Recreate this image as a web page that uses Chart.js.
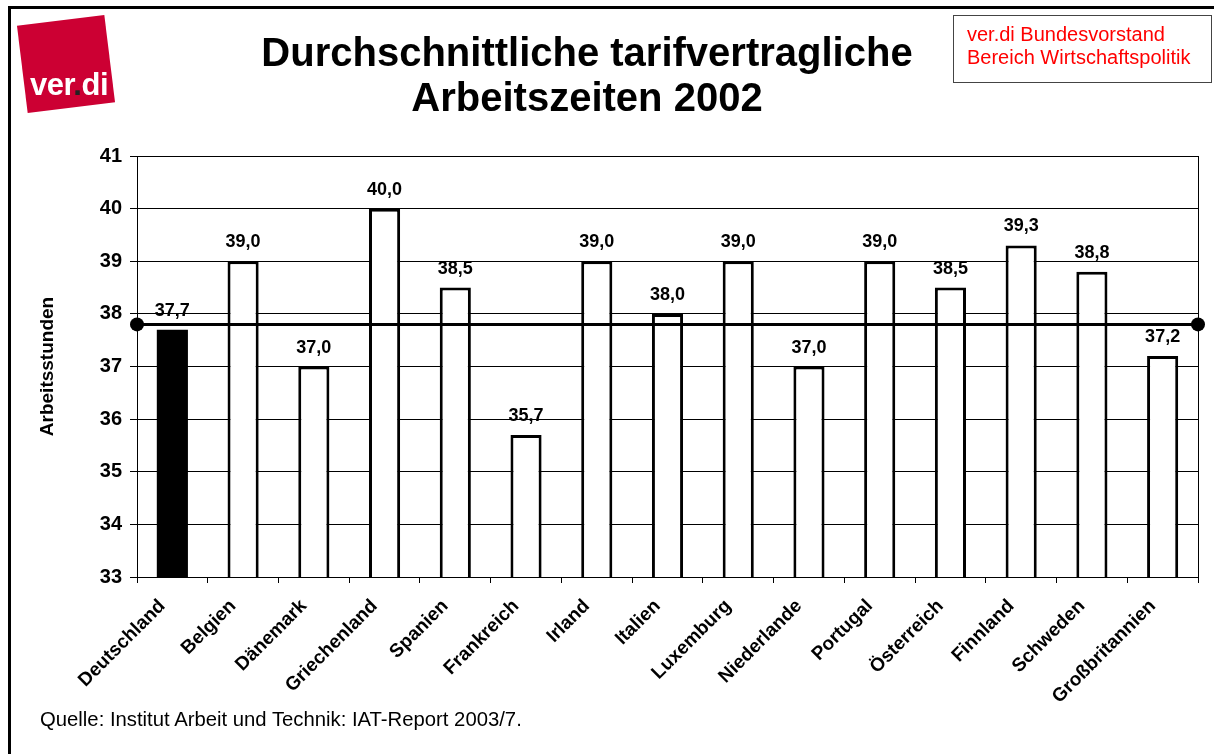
<!DOCTYPE html>
<html><head><meta charset="utf-8">
<script src="https://cdn.jsdelivr.net/npm/chart.js@4/dist/chart.umd.min.js"></script>
<style>
html,body{margin:0;padding:0;background:#fff;}
body{width:1214px;height:754px;position:relative;overflow:hidden;font-family:"Liberation Sans",Arial,sans-serif;}
#frame{position:absolute;left:8px;top:6px;width:1300px;height:900px;border-left:3px solid #000;border-top:3px solid #000;}
#wrap{position:absolute;left:0;top:0;width:1214px;height:754px;}
#logo .sq{position:absolute;left:22px;top:20px;width:88px;height:88px;background:#cc0033;transform:rotate(-7deg);}
#logo .tx{position:absolute;left:30px;top:67px;color:#fff;font-weight:bold;font-size:31px;letter-spacing:-0.5px;}
#title{position:absolute;left:137px;width:900px;top:30px;text-align:center;font-weight:bold;font-size:40px;line-height:45px;color:#000;}
#box{position:absolute;left:953px;top:15px;width:259px;height:68px;border:1px solid #444;color:#ff0000;font-size:20px;line-height:23px;padding-top:7px;box-sizing:border-box;padding-left:13px;white-space:nowrap;}
#src{position:absolute;left:40px;top:709px;font-size:20.3px;line-height:20px;color:#000;}
</style>
</head><body>
<div id="frame"></div>
<div id="wrap"><canvas id="c" width="1214" height="754"></canvas></div>
<div id="logo"><div class="sq"></div><div class="tx">ver<span style="color:#222">.</span>di</div></div>
<div id="title">Durchschnittliche tarifvertragliche<br>Arbeitszeiten 2002</div>
<div id="box">ver.di Bundesvorstand<br>Bereich Wirtschaftspolitik</div>
<div id="src">Quelle: Institut Arbeit und Technik: IAT-Report 2003/7.</div>
<script>
const categories = ["Deutschland","Belgien","Dänemark","Griechenland","Spanien","Frankreich","Irland","Italien","Luxemburg","Niederlande","Portugal","Österreich","Finnland","Schweden","Großbritannien"];
const hours = [37.7,39.0,37.0,40.0,38.5,35.7,39.0,38.0,39.0,37.0,39.0,38.5,39.3,38.8,37.2];
const referenceLevel = 37.8;
const yMin = 33, yMax = 41, yStep = 1;
const yTitle = "Arbeitsstunden";

const FONT = '"Liberation Sans", Arial, sans-serif';
const barFill = hours.map((v,i)=> i===0 ? '#000' : '#fff');
const barBorder = hours.map((v,i)=> i===0 ? 0 : 3);

const frameAndLabels = {
  id:'frameAndLabels',
  beforeDatasetsDraw(chart){
    const {ctx, chartArea:a} = chart;
    ctx.save();
    ctx.strokeStyle='#000'; ctx.lineWidth=1;
    ctx.beginPath(); ctx.moveTo(Math.round(a.right)+0.5, a.top); ctx.lineTo(Math.round(a.right)+0.5, a.bottom); ctx.stroke();
    ctx.restore();
  },
  afterDatasetsDraw(chart){
    const {ctx} = chart;
    const meta = chart.getDatasetMeta(1);
    ctx.save();
    ctx.font = 'bold 18px ' + FONT;
    ctx.fillStyle='#000'; ctx.textAlign='center'; ctx.textBaseline='alphabetic';
    meta.data.forEach((bar,i)=>{
      ctx.fillText(hours[i].toFixed(1).replace('.',','), bar.x, bar.y - 14);
    });
    ctx.restore();
  }
};

new Chart(document.getElementById('c'), {
  type:'bar',
  data:{
    labels:categories,
    datasets:[
      {type:'line', xAxisID:'xl', yAxisID:'y', data:[{x:0,y:referenceLevel},{x:1,y:referenceLevel}],
       borderColor:'#000', borderWidth:3, pointRadius:7, pointBackgroundColor:'#000', pointBorderWidth:0,
       clip:false, order:0},
      {type:'bar', xAxisID:'x', yAxisID:'y', data:hours, backgroundColor:barFill, borderColor:'#000', borderWidth:barBorder, borderSkipped:false,
       grouped:false, barPercentage:0.44, categoryPercentage:1, order:1}
    ]
  },
  plugins:[frameAndLabels],
  options:{
    responsive:false, animation:false,
    layout:{padding:{left:36, top:156, right:16, bottom:0}},
    plugins:{legend:{display:false}, tooltip:{enabled:false}},
    scales:{
      x:{
        type:'category',
        grid:{drawOnChartArea:false, color:'#000', tickLength:6, offset:true},
        border:{color:'#000', width:1},
        ticks:{color:'#000', font:{family:FONT, weight:'bold', size:19},
               maxRotation:45, minRotation:45, autoSkip:false, labelOffset:-10, padding:12},
        afterFit(s){ s.height = 754-577; s.paddingLeft=0; s.paddingRight=0; }
      },
      xl:{type:'linear', min:0, max:1, display:false, offset:false, grid:{offset:false}},
      y:{
        min:yMin, max:yMax,
        ticks:{stepSize:yStep, color:'#000', padding:8, font:{family:FONT, weight:'bold', size:20}},
        grid:{color:'#000', lineWidth:1, tickLength:7},
        border:{color:'#000', width:1},
        title:{display:true, text:yTitle, color:'#000', font:{family:FONT, weight:'bold', size:19}, padding:{top:0,bottom:0}},
        afterFit(s){ s.width = 137-36; s.paddingTop=0; s.paddingBottom=0; }
      }
    }
  }
});
</script>
</body></html>
